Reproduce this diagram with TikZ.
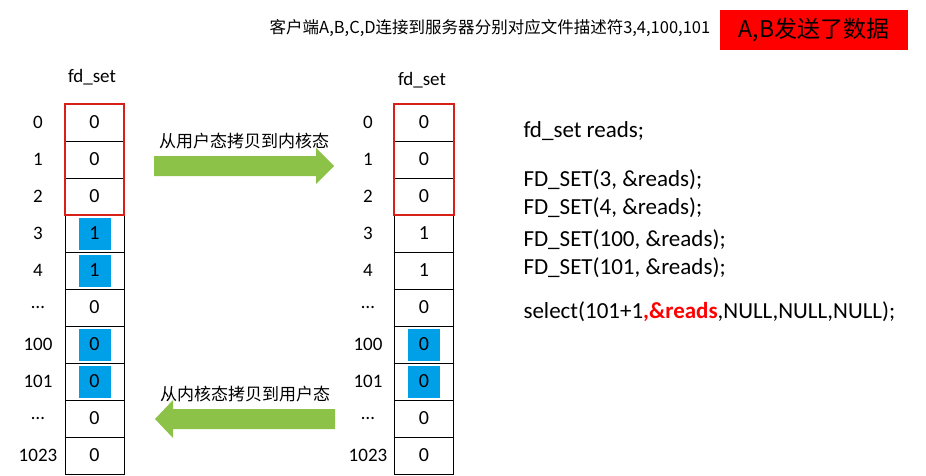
\documentclass[tikz,border=0pt]{standalone}
\usepackage{fontspec}
\setmainfont{Carlito}
\newfontfamily\cjk{Noto Sans CJK SC}
\usetikzlibrary{positioning}
\definecolor{bitblue}{RGB}{0,160,233}
\definecolor{arrgreen}{RGB}{141,194,72}
\definecolor{boxred}{RGB}{214,32,24}
\tikzset{
  cell/.style={draw, line width=0.9pt, minimum width=59pt, minimum height=37pt, inner sep=0},
  bit/.style={font=\fontsize{20}{20}\selectfont},
  hot/.style={bit, fill=bitblue, minimum width=32pt, minimum height=32pt, inner sep=0},
  idx/.style={font=\fontsize{19}{19}\selectfont, anchor=center},
  codeline/.style={anchor=west, font=\fontsize{23}{23}\selectfont},
  redframe/.style={draw=boxred, line width=2pt}
}
\begin{document}
\begin{tikzpicture}[x=1pt, y=-1pt]
  \useasboundingbox (0,0) rectangle (926,476);

  % title
  \node (title) at (490,28) {\cjk\fontsize{16.5}{16.5}\selectfont 客户端A,B,C,D连接到服务器分别对应文件描述符3,4,100,101};
  \node [fill=red, minimum width=188pt, minimum height=40pt] (sent) at (814,30) {\cjk\fontsize{23}{23}\selectfont A,B发送了数据};

  % column headers
  \node [font=\fontsize{19}{19}\selectfont] (lhead) at (92,77) {fd\_set};
  \node [font=\fontsize{19}{19}\selectfont] (rhead) at (422,80) {fd\_set};

  % the two fd tables
  \foreach \lab/\lv/\rv/\lb/\rb [count=\i] in {0/0/0/0/0, 1/0/0/0/0, 2/0/0/0/0, 3/1/1/1/0, 4/1/1/1/0, \dots/0/0/0/0, 100/0/0/1/1, 101/0/0/1/1, \dots/0/0/0/0, 1023/0/0/0/0} {
    \node [cell] (l\i) at (94.5,{104+37*(\i-0.5)}) {};
    \node [cell] (r\i) at (424,{104+37*(\i-0.5)}) {};
    \ifnum\lb=1 \node [hot] at (l\i) {\lv}; \else \node [bit] at (l\i) {\lv}; \fi
    \ifnum\rb=1 \node [hot] at (r\i) {\rv}; \else \node [bit] at (r\i) {\rv}; \fi
    \node [idx] (li\i) at (38,{104+37*(\i-0.5)}) {\lab};
    \node [idx] (ri\i) at (368,{104+37*(\i-0.5)}) {\lab};
  }
  \draw [redframe] (l1.north west) rectangle (l3.south east);
  \draw [redframe] (r1.north west) rectangle (r3.south east);

  % copy arrows
  \coordinate (tokernel) at (244,166);
  \coordinate (touser) at (245,419);
  \fill [arrgreen] (154,156) -- (316,156) -- (316,148) -- (334,166) -- (316,184) -- (316,176) -- (154,176) -- cycle;
  \fill [arrgreen] (335,409) -- (173,409) -- (173,400) -- (155,419) -- (173,438) -- (173,429) -- (335,429) -- cycle;
  \node [above=14pt of tokernel] (tklab) {\cjk\fontsize{17}{17}\selectfont 从用户态拷贝到内核态};
  \node [above=14pt of touser] (tulab) {\cjk\fontsize{17}{17}\selectfont 从内核态拷贝到用户态};

  % code
  \node [codeline] (c1) at (520,131) {fd\_set reads;};
  \node [codeline] (c2) at (520,180) {FD\_SET(3, \&reads);};
  \node [codeline] (c3) at (520,208) {FD\_SET(4, \&reads);};
  \node [codeline] (c4) at (520,240) {FD\_SET(100, \&reads);};
  \node [codeline] (c5) at (520,268) {FD\_SET(101, \&reads);};
  \node [codeline] (c6) at (520,312) {select(101+1{\color{red}\bfseries,\&reads},NULL,NULL,NULL);};
\end{tikzpicture}
\end{document}
